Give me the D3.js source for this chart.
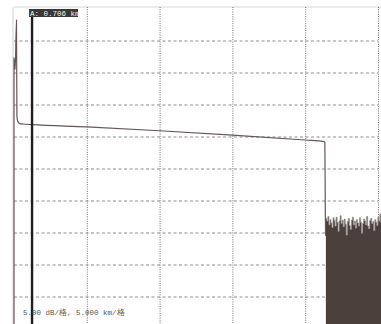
<!DOCTYPE html>
<html>
<head>
<meta charset="utf-8">
<script src="https://cdn.jsdelivr.net/npm/d3@7"></script>
<style>
  body { margin: 0; background: #fff; }
  svg { display: block; }
</style>
</head>
<body>
<div id="chart"></div>
<script>
// OTDR trace: distance (km) vs level (dB)
var kmTicks = [5, 10, 15, 20, 25];
var dbTicks = [5, 10, 15, 20, 25, 30, 35, 40, 45];

// main trace
var traceKm = [0, 0, 0.08, 0.17, 0.2, 0.24, 0.3, 0.4, 0.6, 1.24, 5, 10, 15, 20, 21.25, 21.35, 21.38, 21.4];
var traceDb = [0, 42.3, 40.5, 48.2, 33.2, 32.5, 32.2, 32.0, 31.95, 31.85, 31.5, 30.9, 30.2, 29.45, 29.25, 29.1, 18.4, 14.5];

// noise floor after the fibre end
var noiseStart = 21.42, noiseStep = 0.07;
var noiseDb = [17.2, 16.8, 17.5, 16.2, 17.0, 16.5, 15.8, 17.3, 16.9, 16.0, 17.4, 16.6, 15.2, 16.8, 17.6, 16.4,
               16.9, 15.9, 17.1, 16.3, 14.6, 16.7, 17.2, 16.1, 15.5, 16.9, 17.4, 16.2, 16.8, 15.7, 17.0, 16.5,
               16.0, 17.3, 16.6, 14.9, 16.4, 17.1, 16.8, 16.2, 17.5, 16.0, 15.6, 16.9, 17.2, 16.4, 16.7, 15.3,
               17.0, 16.6, 16.1, 17.4, 16.8, 17.9, 16.5, 17.2];

var cursorKm = 1.24;
var cursorLabel = "A: 0.706 km";
var scaleLabel = "5.00 dB/格, 5.000 km/格";

var W = 381, H = 324;
var svg = d3.select("#chart").append("svg")
    .attr("width", W)
    .attr("height", H);

var x = d3.scaleLinear().domain([0, 25]).range([14, 378]);
var y = d3.scaleLinear().domain([0, 50]).range([328.5, 8.5]);

// frame
svg.append("line")
    .attr("x1", x(0)).attr("x2", W)
    .attr("y1", 7).attr("y2", 7)
    .attr("stroke", "#d6d6d6");
svg.append("line")
    .attr("x1", x(0) - 1).attr("x2", x(0) - 1)
    .attr("y1", 7).attr("y2", H)
    .attr("stroke", "#d0d0d0");

// horizontal grid (dashed)
svg.append("g")
    .attr("transform", "translate(" + x(0) + ",0)")
    .call(d3.axisLeft(y).tickValues(dbTicks).tickSize(-(x(25) - x(0))).tickFormat(""))
    .call(function(g) { g.select(".domain").remove(); })
    .selectAll("line")
    .attr("stroke", "#8c8c8c")
    .attr("stroke-dasharray", "3,2.5");

// vertical grid (dotted)
svg.append("g")
    .attr("transform", "translate(0," + 7 + ")")
    .call(d3.axisBottom(x).tickValues(kmTicks).tickSize(H).tickFormat(""))
    .call(function(g) { g.select(".domain").remove(); })
    .selectAll("line")
    .attr("stroke", "#6e6e6e")
    .attr("stroke-dasharray", "1,1.3");

// noise floor
var noise = noiseDb.map(function(d, i) { return [noiseStart + i * noiseStep, d]; });
svg.append("path")
    .datum(noise)
    .attr("fill", "#4b403c")
    .attr("d", d3.area()
        .x(function(d) { return x(d[0]); })
        .y0(H)
        .y1(function(d) { return y(d[1]); })
        .curve(d3.curveStepAfter));
svg.append("path")
    .datum(noise)
    .attr("fill", "none")
    .attr("stroke", "#9a9290")
    .attr("stroke-width", 0.8)
    .attr("d", d3.line()
        .x(function(d) { return x(d[0]); })
        .y(function(d) { return y(d[1]); })
        .curve(d3.curveStepAfter));

// trace
var trace = traceKm.map(function(k, i) { return [k, traceDb[i]]; });
svg.append("path")
    .datum(trace)
    .attr("fill", "none")
    .attr("stroke", "#635855")
    .attr("stroke-width", 1.2)
    .attr("d", d3.line()
        .x(function(d) { return x(d[0]); })
        .y(function(d) { return y(d[1]); })
        .curve(d3.curveMonotoneX));

// cursor A
svg.append("line")
    .attr("x1", x(cursorKm)).attr("x2", x(cursorKm))
    .attr("y1", 15).attr("y2", H)
    .attr("stroke", "#1e1e1e")
    .attr("stroke-width", 2.4);
svg.append("rect")
    .attr("x", x(cursorKm) - 3).attr("y", 9)
    .attr("width", 49).attr("height", 8)
    .attr("fill", "#3c3836");
svg.append("text")
    .attr("x", x(cursorKm) - 2).attr("y", 15.5)
    .attr("fill", "#f2f2f2")
    .style("font-family", "Liberation Mono, monospace")
    .style("font-size", "7.5px")
    .text(cursorLabel);

// scale text
svg.append("text")
    .attr("x", 23).attr("y", 315)
    .attr("fill", "#555")
    .style("font-family", "Liberation Mono, monospace")
    .style("font-size", "7.5px")
    .text(scaleLabel);
</script>
</body>
</html>
